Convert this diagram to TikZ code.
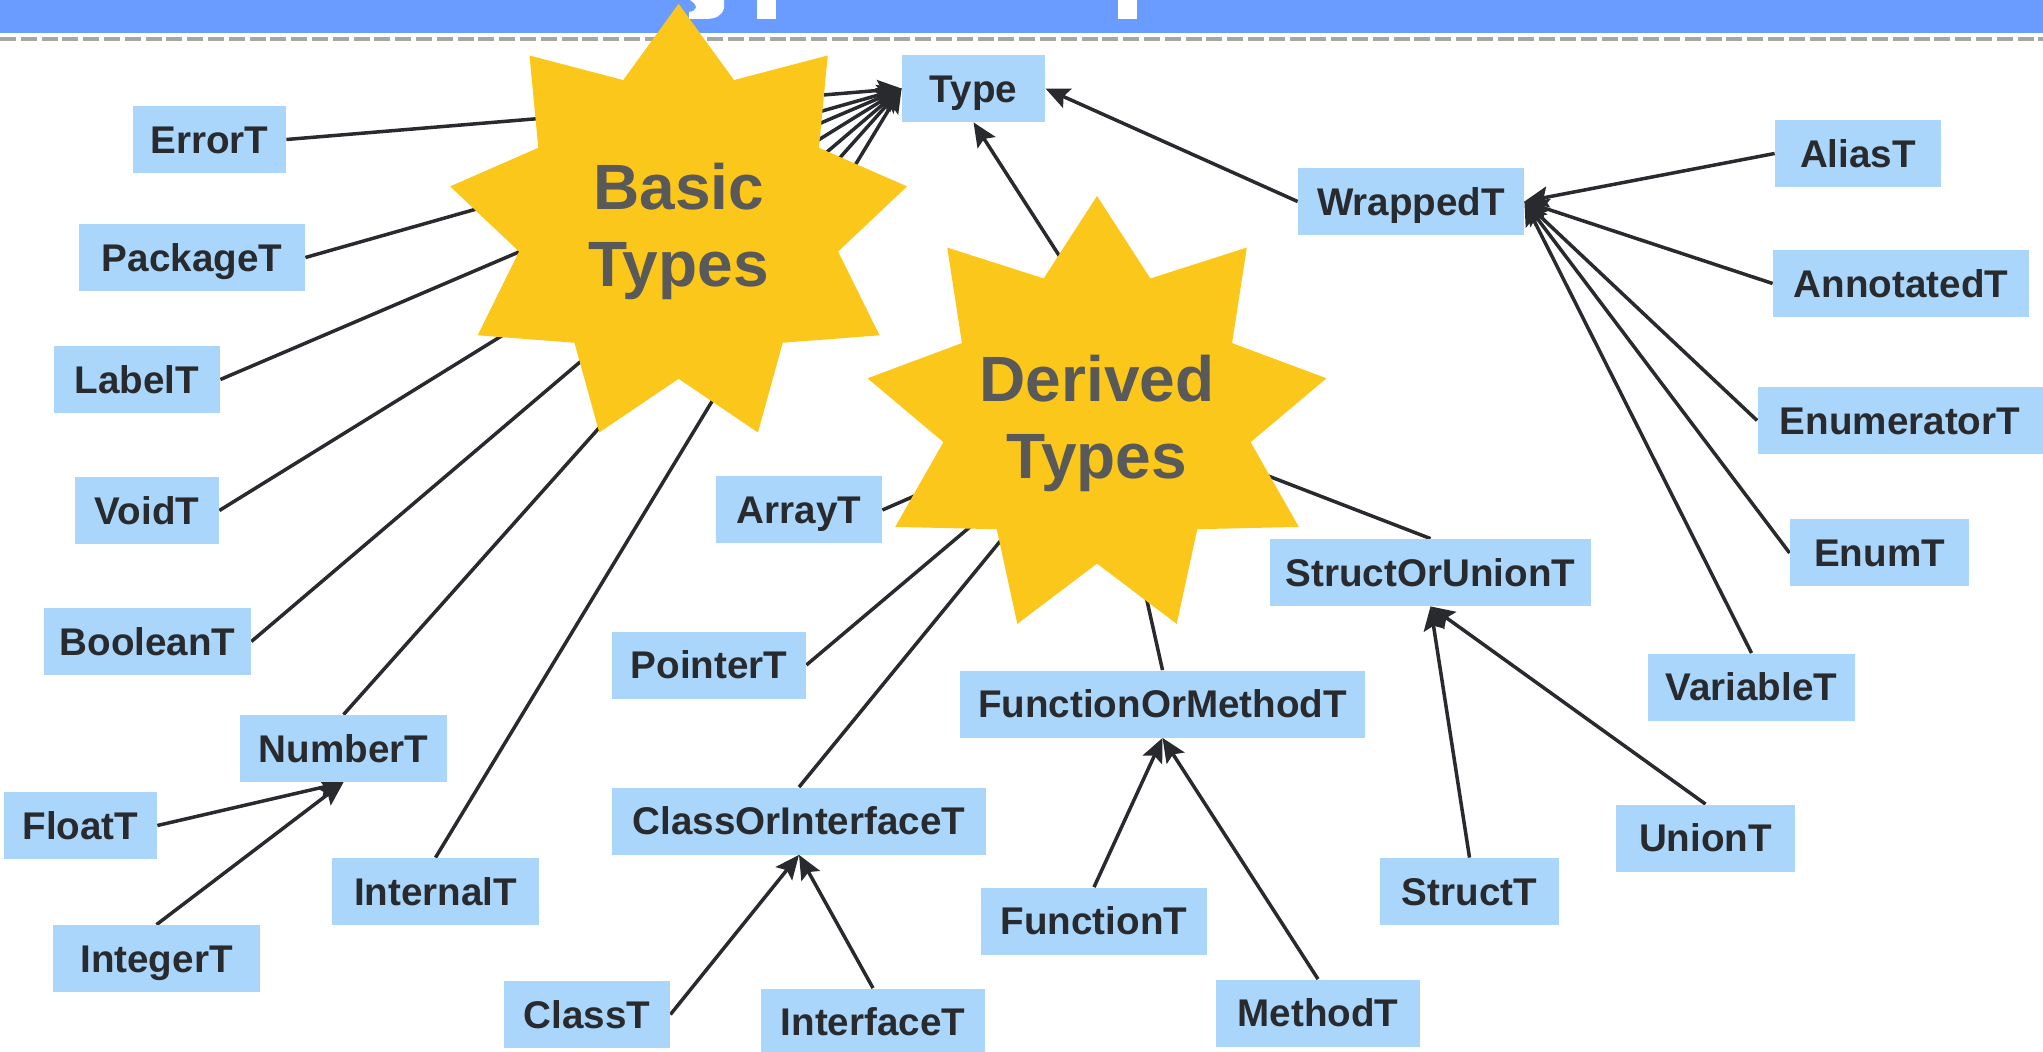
\documentclass[tikz,border=0pt]{standalone}
\usepackage{fontspec}
\setmainfont{Liberation Sans}
\usetikzlibrary{arrows.meta}

\definecolor{banner}{RGB}{106,155,255}
\definecolor{rulegray}{RGB}{166,166,166}
\definecolor{boxfill}{RGB}{170,214,252}
\definecolor{ink}{RGB}{40,42,46}
\definecolor{starfill}{RGB}{250,199,26}
\definecolor{startext}{RGB}{89,89,89}

\pgfdeclarelayer{conn}
\pgfdeclarelayer{stars}
\pgfsetlayers{conn,stars,main}

\begin{document}
\begin{tikzpicture}[x=0.5pt,y=-0.5pt,
  tbox/.style={fill=boxfill, text=ink, inner sep=0pt, minimum height=33.5pt,
    minimum width=#1, font=\bfseries\fontsize{19.3}{23}\selectfont,
    text height=13.8pt, text depth=0pt},
  link/.style={line width=1.75pt, draw=ink},
  isa/.style={link, -{Stealth[length=12pt,width=10.5pt,inset=2.2pt]}},
  startitle/.style={text=startext, align=center,
    font=\bfseries\fontsize{32}{38.5}\selectfont, text depth=0pt},
  starshape/.style={fill=starfill}
]
\useasboundingbox (0,0) rectangle (2043,1052);

% type boxes
\node[tbox=71.5pt]  (Type)       at (973.5,88.5)  {Type};
\node[tbox=76.5pt]  (ErrorT)     at (209.5,139.5) {ErrorT};
\node[tbox=113pt]   (PackageT)   at (192,257.5)   {PackageT};
\node[tbox=83pt]    (LabelT)     at (137,379.5)   {LabelT};
\node[tbox=72pt]    (VoidT)      at (147,510.5)   {VoidT};
\node[tbox=103.5pt] (BooleanT)   at (147.5,641.5) {BooleanT};
\node[tbox=103.5pt] (NumberT)    at (343.5,748.5) {NumberT};
\node[tbox=76.5pt]  (FloatT)     at (80.5,825.5)  {FloatT};
\node[tbox=103.5pt] (InternalT)  at (435.5,891.5) {InternalT};
\node[tbox=103.5pt] (IntegerT)   at (156.5,958.5) {IntegerT};
\node[tbox=83pt]    (ClassT)     at (587,1014.5)  {ClassT};
\node[tbox=83pt]    (ArrayT)     at (799,510)     {ArrayT};
\node[tbox=97pt]    (PointerT)   at (709,665)     {PointerT};
\node[tbox=202.5pt] (FuncMeth)   at (1162.5,704)  {FunctionOrMethodT};
\node[tbox=187pt]   (ClassIface) at (799,821)     {ClassOrInterfaceT};
\node[tbox=113pt]   (FunctionT)  at (1094,921)    {FunctionT};
\node[tbox=112pt]   (InterfaceT) at (873,1022)    {InterfaceT};
\node[tbox=102pt]   (MethodT)    at (1318,1013)   {MethodT};
\node[tbox=160.5pt] (StructUnion) at (1430.5,572.5) {StructOrUnionT};
\node[tbox=89.5pt]  (EnumT)      at (1879.5,553)  {EnumT};
\node[tbox=103.5pt] (VariableT)  at (1751.5,687)  {VariableT};
\node[tbox=89.5pt]  (StructT)    at (1469.5,891.5) {StructT};
\node[tbox=89.5pt]  (UnionT)     at (1705.5,838)  {UnionT};
\node[tbox=113pt]   (WrappedT)   at (1411,201.5)  {WrappedT};
\node[tbox=83pt]    (AliasT)     at (1858,153.5)  {AliasT};
\node[tbox=128pt]   (AnnotatedT) at (1901,283.5)  {AnnotatedT};
\node[tbox=142.5pt] (EnumeratorT) at (1900,420.5) {EnumeratorT};

% hidden meeting points under the "Derived Types" star
\coordinate (dhub) at (1105,413);
\coordinate (dup)  at (1152,400);

\begin{pgfonlayer}{conn}
% title bar and separator
\fill[banner] (0,0) rectangle (2043,33);
\fill[white] (690,0) -- (724,0) -- (724,8) .. controls (722,16) and (716,19) .. (704,19)
  -- (689,19) -- (689,12) .. controls (697,11) and (699,6) .. (690,0) -- cycle;
\fill[white] (757,0) rectangle (776,19);
\fill[white] (1118,0) rectangle (1137,19);
\draw[rulegray, line width=2pt, dash pattern=on 8pt off 2.4pt] (0,39) -- (2043,39);

% connectors
\draw[isa] (ErrorT.east)   -- (Type.west);
\draw[isa] (PackageT.east) -- (Type.west);
\draw[isa] (LabelT.east)   -- (Type.west);
\draw[isa] (VoidT.east)    -- (Type.west);
\draw[isa] (BooleanT.east) -- (Type.west);
\draw[isa] (NumberT.north) -- (Type.west);
\draw[isa] (InternalT.north) -- (Type.west);

\draw[isa] (FloatT.east)    -- (NumberT.south);
\draw[isa] (IntegerT.north) -- (NumberT.south);

\draw[link] (ArrayT.east)       -- (dhub);
\draw[link] (PointerT.east)     -- (dhub);
\draw[link] (ClassIface.north)  -- (dhub);
\draw[link] (FuncMeth.north)    -- (dhub);
\draw[link] (StructUnion.north) -- (dhub);
\draw[isa]  (dup) -- (Type.south);

\draw[isa] (ClassT.east)      -- (ClassIface.south);
\draw[isa] (InterfaceT.north) -- (ClassIface.south);
\draw[isa] (FunctionT.north)  -- (FuncMeth.south);
\draw[isa] (MethodT.north)    -- (FuncMeth.south);
\draw[isa] (StructT.north)    -- (StructUnion.south);
\draw[isa] (UnionT.north)     -- (StructUnion.south);

\draw[isa] (WrappedT.west)    -- (Type.east);
\draw[isa] (AliasT.west)      -- (WrappedT.east);
\draw[isa] (AnnotatedT.west)  -- (WrappedT.east);
\draw[isa] (EnumeratorT.west) -- (WrappedT.east);
\draw[isa] (EnumT.west)       -- (WrappedT.east);
\draw[isa] (VariableT.north)  -- (WrappedT.east);
\end{pgfonlayer}

% nine-pointed stars
\begin{pgfonlayer}{stars}
\begin{scope}[shift={(678.6,224.8)}]
\fill[starshape] (270:232 and 221) \foreach \k in {0,...,8}{
  -- ({290+40*\k}:162 and 154) -- ({310+40*\k}:232 and 221)} -- cycle;
\end{scope}
\begin{scope}[shift={(1097,416.6)}]
\fill[starshape] (270:233 and 220.6) \foreach \k in {0,...,8}{
  -- ({290+40*\k}:156 and 147) -- ({310+40*\k}:233 and 220.6)} -- cycle;
\end{scope}
\node[startitle] (basiclbl)   at (678.6,224.8) {Basic\\Types};
\node[startitle] (derivedlbl) at (1097,416.6)  {Derived\\Types};
\end{pgfonlayer}
\end{tikzpicture}
\end{document}
